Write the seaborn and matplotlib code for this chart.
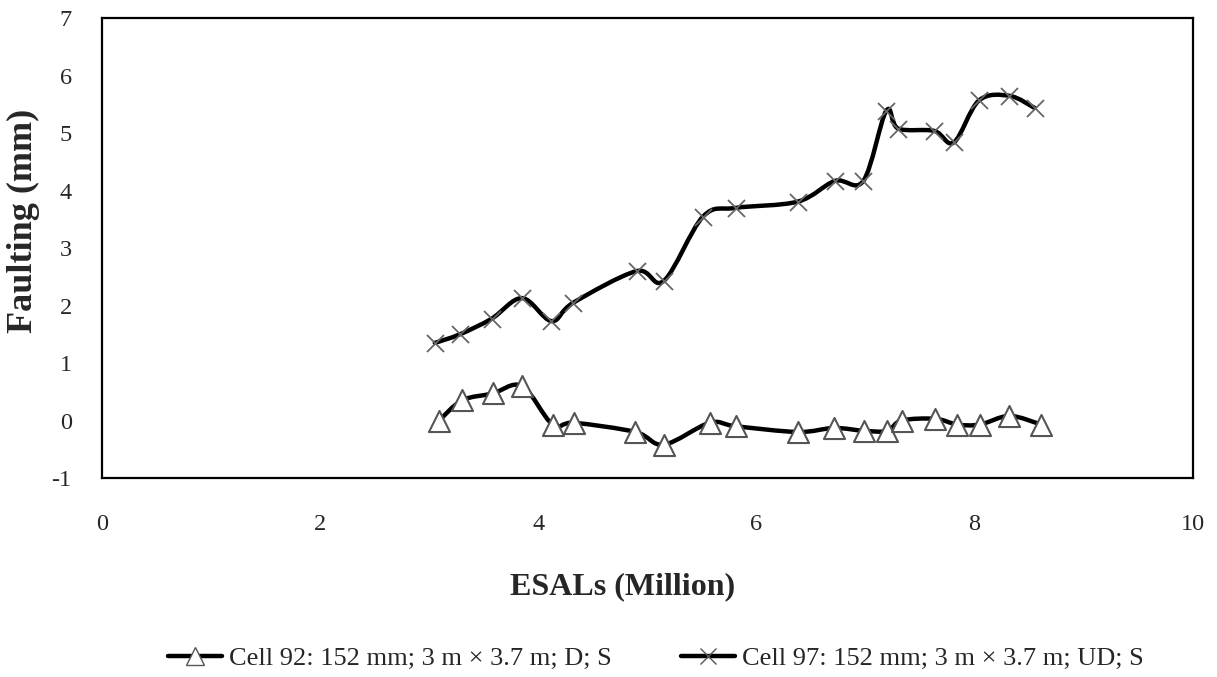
import numpy as np
import matplotlib
matplotlib.use("Agg")
import matplotlib.pyplot as plt
from matplotlib.path import Path
from matplotlib.patches import PathPatch
from matplotlib.lines import Line2D
import seaborn as sns

# ---- data ----
esal_92 = [3.09, 3.30, 3.58, 3.85, 4.13, 4.33, 4.89, 5.15, 5.57, 5.81,
           6.38, 6.71, 6.99, 7.20, 7.33, 7.64, 7.84, 8.05, 8.32, 8.61]
fault_92 = [0.00, 0.35, 0.47, 0.60, -0.07, -0.04, -0.20, -0.42, -0.04, -0.10,
            -0.20, -0.13, -0.18, -0.18, 0.00, 0.03, -0.07, -0.07, 0.08, -0.07]

esal_97 = [3.05, 3.28, 3.57, 3.85, 4.12, 4.32, 4.90, 5.15, 5.51, 5.81,
           6.38, 6.72, 6.98, 7.19, 7.30, 7.63, 7.81, 8.04, 8.32, 8.55]
fault_97 = [1.35, 1.50, 1.77, 2.13, 1.73, 2.05, 2.60, 2.43, 3.55, 3.70,
            3.81, 4.17, 4.17, 5.39, 5.08, 5.04, 4.84, 5.57, 5.65, 5.44]

labels = ["Cell 92: 152 mm; 3 m \u00d7 3.7 m; D; S",
          "Cell 97: 152 mm; 3 m \u00d7 3.7 m; UD; S"]
x_ticks = [0, 2, 4, 6, 8, 10]
y_ticks = [-1, 0, 1, 2, 3, 4, 5, 6, 7]

sns.set_theme(style="white")
plt.rcParams["font.family"] = ["Liberation Serif", "DejaVu Serif"]

fig = plt.figure(figsize=(12.17, 6.77), dpi=100)
ax = fig.add_axes([0.084, 0.294, 0.896, 0.679])


def smooth_path(xs, ys, tension=1.0 / 6.0):
    """Excel-like smoothed line: cubic Bezier segments through the points."""
    p = np.column_stack([xs, ys]).astype(float)
    n = len(p)
    verts = [tuple(p[0])]
    codes = [Path.MOVETO]
    for i in range(n - 1):
        p0 = p[i - 1] if i > 0 else p[i]
        p1 = p[i]
        p2 = p[i + 1]
        p3 = p[i + 2] if i + 2 < n else p[i + 1]
        c1 = p1 + (p2 - p0) * tension
        c2 = p2 - (p3 - p1) * tension
        verts += [tuple(c1), tuple(c2), tuple(p2)]
        codes += [Path.CURVE4] * 3
    return Path(verts, codes)


for xs, ys in [(esal_92, fault_92), (esal_97, fault_97)]:
    ax.add_patch(PathPatch(smooth_path(xs, ys), facecolor="none",
                           edgecolor="black", lw=3.2, zorder=2,
                           capstyle="round", joinstyle="round"))

sns.scatterplot(x=esal_92, y=fault_92, marker="^", s=230, facecolor="white",
                edgecolor="#555555", linewidth=1.5, ax=ax, zorder=3)
sns.scatterplot(x=esal_97, y=fault_97, marker="x", s=150, color="#666666",
                linewidth=1.3, ax=ax, zorder=3)

ax.set_xlim(0, 10)
ax.set_ylim(-1, 7)
ax.set_xticks(x_ticks)
ax.set_yticks(y_ticks)
ax.set_xticklabels([str(v) for v in x_ticks])
ax.set_yticklabels([str(v) for v in y_ticks])
ax.tick_params(axis="x", length=0, pad=26, labelsize=17.5)
ax.tick_params(axis="y", length=0, pad=22, labelsize=17.5)
for s in ax.spines.values():
    s.set_color("black")
    s.set_linewidth(1.6)

ax.set_xlabel("ESALs (Million)", fontsize=23, fontweight="bold")
ax.set_ylabel("Faulting (mm)", fontsize=26, fontweight="bold")
ax.xaxis.set_label_coords(0.4776, -0.205)
ax.yaxis.set_label_coords(-0.057, 0.56)

handles = [
    Line2D([], [], color="black", lw=3.2, marker="^", markersize=13,
           markerfacecolor="white", markeredgecolor="#555555"),
    Line2D([], [], color="black", lw=3.2, marker="x", markersize=12,
           markeredgecolor="#555555"),
]
fig.legend(handles, labels, loc="center", bbox_to_anchor=(0.539, 0.028),
           ncol=2, frameon=False, fontsize=19, handlelength=2.05,
           handletextpad=0.27, columnspacing=2.6, borderpad=0)

fig.savefig("out.png", dpi=100, facecolor="white")
